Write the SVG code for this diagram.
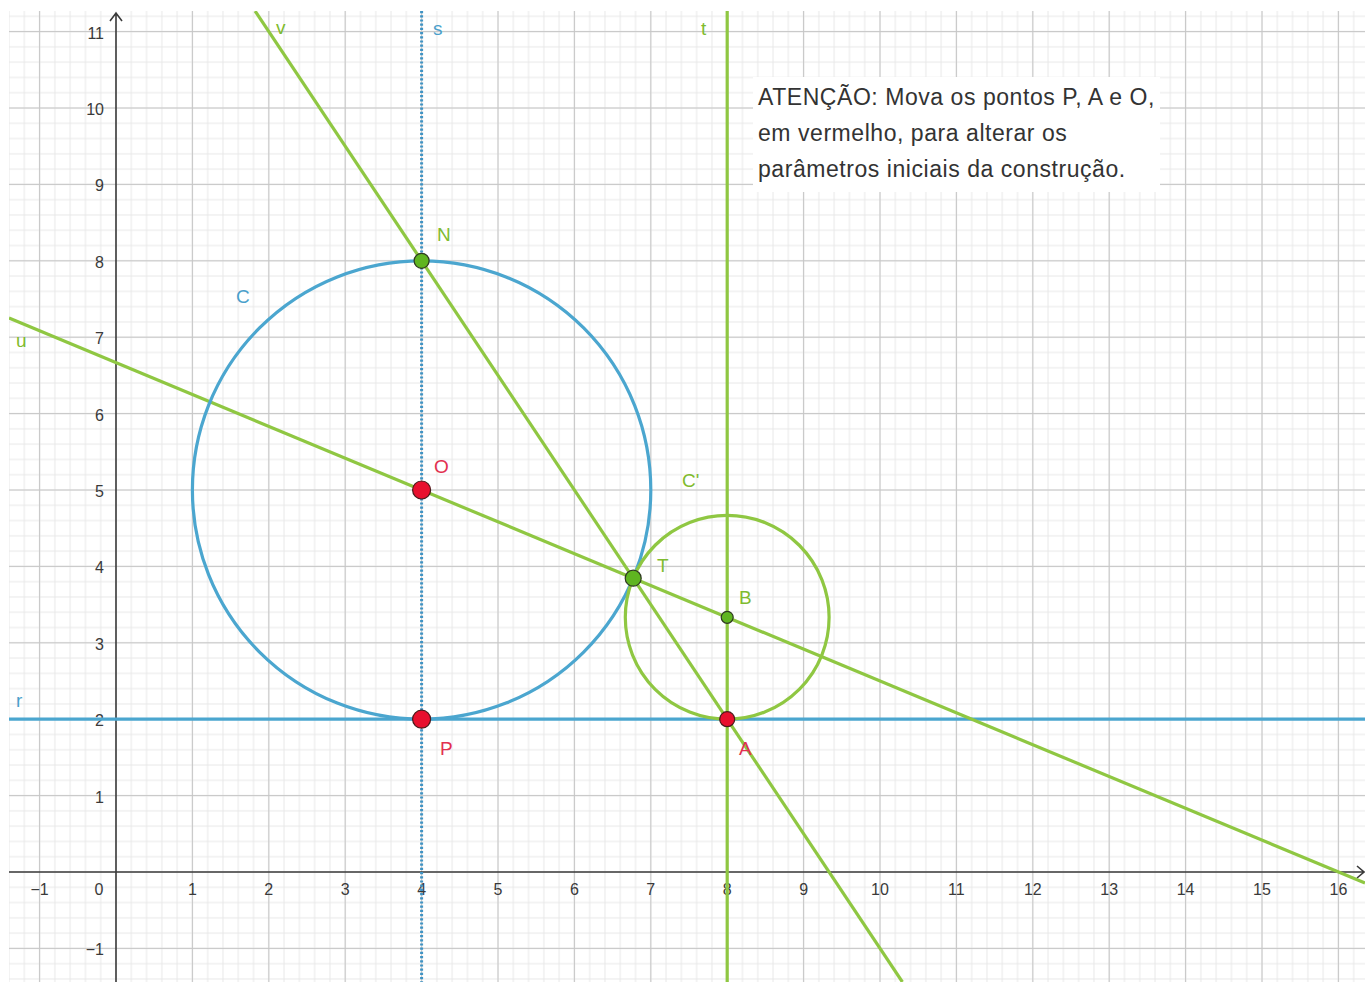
<svg xmlns="http://www.w3.org/2000/svg" width="1365" height="982" viewBox="0 0 1365 982">
<defs>
<style>
.major{stroke:#c6c6c6;stroke-width:1;fill:none}
.axis{stroke:#3a3a3a;stroke-width:1.6;fill:none}
.tick{font-family:"Liberation Sans",Arial,sans-serif;font-size:16px;fill:#3a3a3a}
.tx{text-anchor:middle}
.ty{text-anchor:end}
.blue{stroke:#4ba6cf;stroke-width:3.2;fill:none}
.green{stroke:#8fc742;stroke-width:3.2;fill:none}
.lbl{font-family:"Liberation Sans",Arial,sans-serif;font-size:19px}
.lb{fill:#4a9fcb}
.lg{fill:#7fbb2e}
.lr{fill:#e2304f}
.pr{fill:#e8102e;stroke:#4a1a1a;stroke-width:1.2}
.pg{fill:#5fb520;stroke:#2f3a20;stroke-width:1.2}
.note{font-family:"Liberation Sans",Arial,sans-serif;font-size:23px;letter-spacing:0.55px;fill:#333}
</style>
<pattern id="minor" patternUnits="userSpaceOnUse" x="108.36" y="864.36" width="15.28" height="15.28">
<path d="M7.64 0V15.28M0 7.64H15.28" stroke="#e8e8e8" stroke-width="1" fill="none"/>
</pattern>
<clipPath id="plot"><rect x="9" y="11" width="1356" height="971"/></clipPath>
</defs>
<rect width="1365" height="982" fill="#ffffff"/>
<g id="grid" clip-path="url(#plot)">
<rect x="9" y="11" width="1356" height="971" fill="url(#minor)"/>
<path class="major" d="M39.6 11V982M192.4 11V982M268.8 11V982M345.2 11V982M421.6 11V982M498 11V982M574.4 11V982M650.8 11V982M727.2 11V982M803.6 11V982M880 11V982M956.4 11V982M1032.8 11V982M1109.2 11V982M1185.6 11V982M1262 11V982M1338.4 11V982M9 948.4H1365M9 795.6H1365M9 719.2H1365M9 642.8H1365M9 566.4H1365M9 490H1365M9 413.6H1365M9 337.2H1365M9 260.8H1365M9 184.4H1365M9 108H1365M9 31.6H1365"/>
</g>
<rect id="note-bg" x="753" y="77" width="407" height="115" fill="#ffffff"/>
<g id="axes">
<path class="axis" d="M9 872H1364M116 982V13M110 21L116 13L122 21M1357 866L1364 872L1357 878"/>
<g class="tick tx">
<text x="39.6" y="895">−1</text>
<text x="99" y="895">0</text>
<text x="192.4" y="895">1</text>
<text x="268.8" y="895">2</text>
<text x="345.2" y="895">3</text>
<text x="421.6" y="895">4</text>
<text x="498" y="895">5</text>
<text x="574.4" y="895">6</text>
<text x="650.8" y="895">7</text>
<text x="727.2" y="895">8</text>
<text x="803.6" y="895">9</text>
<text x="880" y="895">10</text>
<text x="956.4" y="895">11</text>
<text x="1032.8" y="895">12</text>
<text x="1109.2" y="895">13</text>
<text x="1185.6" y="895">14</text>
<text x="1262" y="895">15</text>
<text x="1338.4" y="895">16</text>
</g>
<g class="tick ty">
<text x="104" y="955.4">−1</text>
<text x="104" y="802.6">1</text>
<text x="104" y="726.2">2</text>
<text x="104" y="649.8">3</text>
<text x="104" y="573.4">4</text>
<text x="104" y="497">5</text>
<text x="104" y="420.6">6</text>
<text x="104" y="344.2">7</text>
<text x="104" y="267.8">8</text>
<text x="104" y="191.4">9</text>
<text x="104" y="115">10</text>
<text x="104" y="38.6">11</text>
</g>
</g>
<g id="connectors" clip-path="url(#plot)">
<line id="r" class="blue" x1="9" y1="719.2" x2="1365" y2="719.2"/>
<line id="s" x1="421.6" y1="11" x2="421.6" y2="982" stroke="#3f93c4" stroke-width="3" stroke-dasharray="2.2 2"/>
<line id="t" class="green" x1="727.2" y1="11" x2="727.2" y2="982"/>
<line id="u" class="green" x1="9" y1="318.1" x2="1365" y2="883.1"/>
<line id="v" class="green" x1="255.1" y1="11" x2="902.4" y2="982"/>
</g>
<g id="circle-C"><circle class="blue" cx="421.6" cy="490" r="229.2"/></g>
<g id="circle-C2"><circle class="green" cx="727.2" cy="617.3" r="101.9"/></g>
<g id="point-N"><circle class="pg" cx="421.6" cy="260.8" r="7.5"/></g>
<g id="point-T"><circle class="pg" cx="633.2" cy="578.2" r="8"/></g>
<g id="point-B"><circle class="pg" cx="727.2" cy="617.3" r="6"/></g>
<g id="point-O"><circle class="pr" cx="421.6" cy="490" r="9"/></g>
<g id="point-P"><circle class="pr" cx="421.6" cy="719.2" r="9"/></g>
<g id="point-A"><circle class="pr" cx="727.2" cy="719.2" r="7.5"/></g>
<g id="labels" class="lbl">
<text class="lg" x="276" y="34">v</text>
<text class="lb" x="433" y="35">s</text>
<text class="lg" x="701" y="35">t</text>
<text class="lg" x="437" y="241">N</text>
<text class="lb" x="236" y="303">C</text>
<text class="lg" x="16" y="347">u</text>
<text class="lr" x="434" y="473">O</text>
<text class="lg" x="682" y="487">C'</text>
<text class="lg" x="657" y="572">T</text>
<text class="lg" x="739" y="604">B</text>
<text class="lb" x="16" y="707">r</text>
<text class="lr" x="440" y="755">P</text>
<text class="lr" x="739" y="755">A</text>
</g>
<g id="note" class="note">
<text x="758" y="105">ATENÇÃO: Mova os pontos P, A e O,</text>
<text x="758" y="141">em vermelho, para alterar os</text>
<text x="758" y="177">parâmetros iniciais da construção.</text>
</g>
</svg>
